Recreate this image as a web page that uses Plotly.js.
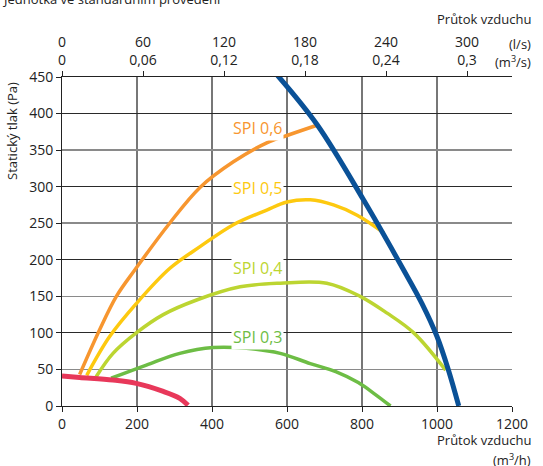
<!DOCTYPE html>
<html>
<head>
<meta charset="utf-8">
<script src="https://cdn.plot.ly/plotly-3.0.1.min.js"></script>
<style>html,body{margin:0;padding:0;background:#fff;}#chart{width:543px;height:466px;}</style>
</head>
<body>
<div id="chart"></div>
<script>
// Flow in m3/h, static pressure in Pa
const blueX   = [575, 680, 804, 911, 960, 1000, 1030, 1058];
const blueY   = [452, 385, 282, 186, 140, 95, 50, 0];
const spi06X  = [47, 100, 145, 194, 287, 368, 457, 546, 600, 680];
const spi06Y  = [43, 104, 150, 186, 250, 299, 334, 360, 370, 384];
const spi05X  = [66, 127, 198, 287, 368, 457, 546, 600, 662, 724, 787, 858];
const spi05Y  = [42, 95, 140, 188, 218, 248, 268, 279, 282, 275, 261, 237];
const spi04X  = [91, 136, 198, 270, 359, 475, 582, 706, 795, 867, 938, 1023];
const spi04Y  = [40, 72, 100, 125, 145, 163, 168, 168, 150, 127, 100, 49];
const spi03X  = [131, 225, 314, 403, 492, 582, 662, 730, 790, 835, 876];
const spi03Y  = [38, 56, 72, 80, 79, 72, 58, 47, 32, 16, 0];
const redX    = [0, 47, 136, 198, 270, 314, 336];
const redY    = [41, 39, 35.5, 31, 20, 10.5, 1];
const spiLabels = ["SPI 0,6", "SPI 0,5", "SPI 0,4", "SPI 0,3"];
const spiLabelX = [520, 520, 520, 522];
const spiLabelY = [380, 298, 189, 95];
const topTickLs  = ["0", "60", "120", "180", "240", "300"];
const topTickM3s = ["0", "0,06", "0,12", "0,18", "0,24", "0,3"];
const topTickVals = [0, 0.06, 0.12, 0.18, 0.24, 0.30];

const FONT = "Open Sans, Noto Sans, sans-serif";
const colors = {blue:"#0a5197", o:"#f7962f", y:"#fdc90f", l:"#bcd531", g:"#6dbd45", r:"#e8385a"};

function line(x, y, color, width) {
  return {x: x, y: y, mode: "lines", type: "scatter", line: {color: color, width: width, shape: "spline", smoothing: 1},
          hoverinfo: "skip", showlegend: false, xaxis: "x", yaxis: "y"};
}

const data = [
  {x:[null], y:[null], xaxis:"x2", yaxis:"y2", mode:"lines", showlegend:false, hoverinfo:"skip"},
  {x:[null], y:[null], xaxis:"x", yaxis:"y3", mode:"lines", showlegend:false, hoverinfo:"skip"},
  line(spi03X, spi03Y, colors.g, 3.5),
  line(spi04X, spi04Y, colors.l, 3.5),
  line(spi05X, spi05Y, colors.y, 3.5),
  line(spi06X, spi06Y, colors.o, 3.5),
  line(redX, redY, colors.r, 5),
  line(blueX, blueY, colors.blue, 5)
];

const annColors = [colors.o, colors.y, colors.l, colors.g];
const annotations = spiLabels.map((t, i) => ({
  x: spiLabelX[i], y: spiLabelY[i], xref: "x", yref: "y", text: t, showarrow: false,
  font: {family: FONT, size: 16, color: annColors[i]}, bgcolor: "#ffffff", borderpad: 1
}));

const pxX = p => (p - 62) / 450;
const pxY = p => (406 - p) / 329;
annotations.push(
  {xref:"paper", yref:"paper", x:pxX(0), y:pxY(-1), xanchor:"left", yanchor:"middle", text:"Jednotka ve standardním provedení", showarrow:false, font:{family:FONT, size:13, color:"#222"}},
  {xref:"paper", yref:"paper", x:pxX(533), y:pxY(19), xanchor:"right", yanchor:"middle", text:"Průtok vzduchu", showarrow:false, font:{family:FONT, size:13, color:"#222"}},
  {xref:"paper", yref:"paper", x:pxX(533), y:pxY(44), xanchor:"right", yanchor:"middle", text:"(l/s)", showarrow:false, font:{family:FONT, size:13, color:"#222"}},
  {xref:"paper", yref:"paper", x:pxX(533), y:pxY(61), xanchor:"right", yanchor:"middle", text:"(m<sup>3</sup>/s)", showarrow:false, font:{family:FONT, size:13, color:"#222"}},
  {xref:"paper", yref:"paper", x:pxX(533), y:pxY(440), xanchor:"right", yanchor:"middle", text:"Průtok vzduchu", showarrow:false, font:{family:FONT, size:13, color:"#222"}},
  {xref:"paper", yref:"paper", x:pxX(533), y:pxY(459), xanchor:"right", yanchor:"middle", text:"(m<sup>3</sup>/h)", showarrow:false, font:{family:FONT, size:13, color:"#222"}},
  {xref:"paper", yref:"paper", x:pxX(12), y:pxY(131), xanchor:"center", yanchor:"middle", textangle:-90, text:"Statický tlak (Pa)", showarrow:false, font:{family:FONT, size:13, color:"#222"}}
);

const tf = {family: FONT, size: 14, color: "#222"};
const layout = {
  width: 543, height: 466,
  margin: {l: 62, r: 31, t: 77, b: 60, pad: 0},
  paper_bgcolor: "#fff", plot_bgcolor: "#fff",
  font: {family: FONT, size: 13, color: "#222"},
  showlegend: false,
  xaxis: {range: [0, 1200], tickvals: [0,200,400,600,800,1000,1200], showgrid: true, gridcolor: "#777", gridwidth: 1.3,
          showline: true, linecolor: "#222", linewidth: 1, ticks: "outside", ticklen: 5, tickcolor: "#222",
          zeroline: false, fixedrange: true, tickfont: tf},
  xaxis2: {overlaying: "x", side: "top", anchor: "y2", range: [0, 1200/3600], tickvals: topTickVals,
           ticktext: topTickLs.map((t, i) => t + "<br>" + topTickM3s[i]),
           showgrid: false, showline: true, linecolor: "#222", linewidth: 1, ticks: "outside", ticklen: 5, tickcolor: "#222",
           zeroline: false, fixedrange: true, tickfont: tf},
  yaxis: {range: [0, 450], tickvals: [0,50,100,150,200,250,300,350,400,450], showgrid: false,
          showline: true, linecolor: "#222", linewidth: 1, ticks: "outside", ticklen: 5, tickcolor: "#222",
          zeroline: false, fixedrange: true, tickfont: tf},
  yaxis2: {overlaying: "y", anchor: "x2", range: [0, 450], tickvals: [50,150,250,350,450], showgrid: true,
           gridcolor: "#8a8a8a", gridwidth: 1.5, showticklabels: false, ticks: "", showline: false, zeroline: false, fixedrange: true},
  yaxis3: {overlaying: "y", anchor: "x", range: [0, 450], tickvals: [0,100,200,300,400], showgrid: true,
           gridcolor: "#2a2a2a", gridwidth: 1, showticklabels: false, ticks: "", showline: false, zeroline: false, fixedrange: true},
  annotations: annotations
};

Plotly.newPlot("chart", data, layout, {displayModeBar: false, staticPlot: true});
</script>
</body>
</html>
